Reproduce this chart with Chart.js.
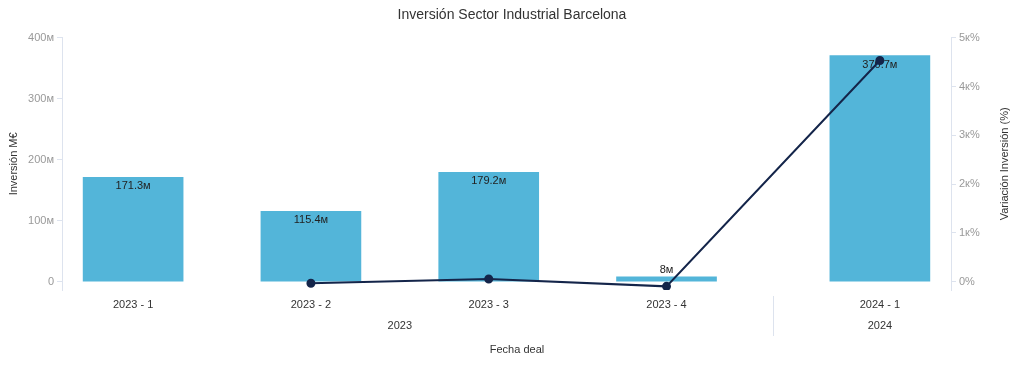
<!DOCTYPE html>
<html>
<head>
<meta charset="utf-8">
<script src="https://cdn.jsdelivr.net/npm/chart.js@4/dist/chart.umd.min.js"></script>
<style>
  body { margin: 0; background: #fff; }
  #wrap { width: 1024px; height: 367px; position: relative; }
</style>
</head>
<body>
<div id="wrap"><canvas id="investchart"></canvas></div>
<script>
const quarterLabels = ["2023 - 1", "2023 - 2", "2023 - 3", "2023 - 4", "2024 - 1"];
const yearOfQuarter = ["2023", "2023", "2023", "2023", "2024"];
const inversionM = [171.3, 115.4, 179.2, 8, 370.7];
const variacionPct = [null, -32.6, 55.3, -95.5, 4533.8];
const leftTicks = [0, 100, 200, 300, 400];
const rightTicks = [0, 1000, 2000, 3000, 4000, 5000];

const FONT = "'Liberation Sans', Arial, sans-serif";
const groupGap = 0.2;

// x position of each quarter: index plus a small gap after each year group
const years = [...new Set(yearOfQuarter)];
const xPos = quarterLabels.map((q, i) => i + years.indexOf(yearOfQuarter[i]) * groupGap);

const barData = xPos.map((x, i) => ({ x: x, y: inversionM[i] }));
const lineData = xPos.map((x, i) => ({ x: x, y: variacionPct[i] }));

function fmtM(v) {
    return v === 0 ? "0" : v + "м";
}
function fmtPct(v) {
    return v === 0 ? "0%" : (v / 1000) + "к%";
}

const decorations = {
    id: "decorations",
    afterDatasetDraw(chart, args) {
        if (args.index !== 0) return;
        const ctx = chart.ctx;
        const meta = chart.getDatasetMeta(0);
        ctx.save();
        ctx.font = "11px " + FONT;
        ctx.fillStyle = "#222";
        ctx.textAlign = "center";
        ctx.textBaseline = "middle";
        meta.data.forEach((bar, i) => {
            const h = bar.base - bar.y;
            const label = inversionM[i] + "м";
            if (h < 20) {
                ctx.fillText(label, bar.x, bar.y - 7);
            } else {
                ctx.fillText(label, bar.x, bar.y + 9);
            }
        });
        ctx.restore();
    },
    afterDraw(chart) {
        const ctx = chart.ctx;
        const x = chart.scales.x;
        const area = chart.chartArea;
        ctx.save();
        // title
        ctx.font = "14px " + FONT;
        ctx.fillStyle = "#333";
        ctx.textAlign = "center";
        ctx.textBaseline = "middle";
        ctx.fillText("Inversión Sector Industrial Barcelona", 512, 15);

        // year group labels and separators
        ctx.font = "11px " + FONT;
        ctx.fillStyle = "#333";
        years.forEach((yr, g) => {
            const idx = yearOfQuarter.map((y, i) => y === yr ? i : -1).filter(i => i >= 0);
            const first = x.getPixelForValue(xPos[idx[0]]);
            const last = x.getPixelForValue(xPos[idx[idx.length - 1]]);
            ctx.fillText(yr, (first + last) / 2, 326);
            if (g > 0) {
                const prev = x.getPixelForValue(xPos[idx[0] - 1]);
                const sx = Math.round((prev + first) / 2) + 0.5;
                ctx.strokeStyle = "#dde3ee";
                ctx.lineWidth = 1;
                ctx.beginPath();
                ctx.moveTo(sx, 296);
                ctx.lineTo(sx, 336);
                ctx.stroke();
            }
        });

        // x axis title
        ctx.fillStyle = "#333";
        ctx.fillText("Fecha deal", 517, 350);

        // right axis title, reading bottom to top
        ctx.translate(1005, (area.top + area.bottom) / 2);
        ctx.rotate(-Math.PI / 2);
        ctx.fillText("Variación Inversión (%)", 0, 0);
        ctx.restore();
    }
};

const ctx = document.getElementById("investchart").getContext("2d");
new Chart(ctx, {
    data: {
        datasets: [{
            type: "bar",
            label: "Inversión M€",
            data: barData,
            yAxisID: "y",
            backgroundColor: "#53b5d9",
            borderWidth: 0,
            barThickness: 100,
            order: 1
        }, {
            type: "line",
            label: "Variación Inversión (%)",
            data: lineData,
            yAxisID: "y1",
            borderColor: "#14254a",
            backgroundColor: "#14254a",
            borderWidth: 2,
            pointRadius: 3.5,
            pointHoverRadius: 3.5,
            tension: 0,
            spanGaps: false,
            order: 0
        }]
    },
    options: {
        responsive: true,
        maintainAspectRatio: false,
        animation: false,
        layout: { padding: { top: 37.7, left: 0, right: 0, bottom: 0 } },
        plugins: {
            legend: { display: false },
            title: { display: false },
            tooltip: { enabled: false }
        },
        scales: {
            x: {
                type: "linear",
                offset: false,
                min: -0.4,
                max: 4.6,
                grid: { display: false, drawTicks: false, offset: false },
                border: { display: false },
                afterBuildTicks: axis => { axis.ticks = xPos.map(v => ({ value: v })); },
                afterFit: axis => { axis.height = 77; },
                ticks: {
                    autoSkip: false,
                    maxRotation: 0,
                    padding: 8,
                    color: "#333",
                    font: { family: FONT, size: 11 },
                    callback: (v, i) => quarterLabels[i]
                }
            },
            y: {
                position: "left",
                min: -13.6,
                max: 400,
                afterBuildTicks: axis => { axis.ticks = leftTicks.map(v => ({ value: v })); },
                afterFit: axis => { axis.width = 62; },
                grid: { drawOnChartArea: false, tickLength: 5, color: "#dde3ee" },
                border: { display: true, color: "#dde3ee" },
                ticks: {
                    padding: 3,
                    color: "#999",
                    font: { family: FONT, size: 11 },
                    callback: v => fmtM(v)
                },
                title: {
                    display: true,
                    text: "Inversión M€",
                    color: "#333",
                    font: { family: FONT, size: 11 },
                    padding: { top: 7, bottom: 0 }
                }
            },
            y1: {
                position: "right",
                min: -170,
                max: 5000,
                afterBuildTicks: axis => { axis.ticks = rightTicks.map(v => ({ value: v })); },
                afterFit: axis => { axis.width = 73; },
                grid: { drawOnChartArea: false, tickLength: 5, color: "#dde3ee" },
                border: { display: true, color: "#dde3ee" },
                ticks: {
                    padding: 3,
                    color: "#999",
                    font: { family: FONT, size: 11 },
                    callback: v => fmtPct(v)
                }
            }
        }
    },
    plugins: [decorations]
});
</script>
</body>
</html>
